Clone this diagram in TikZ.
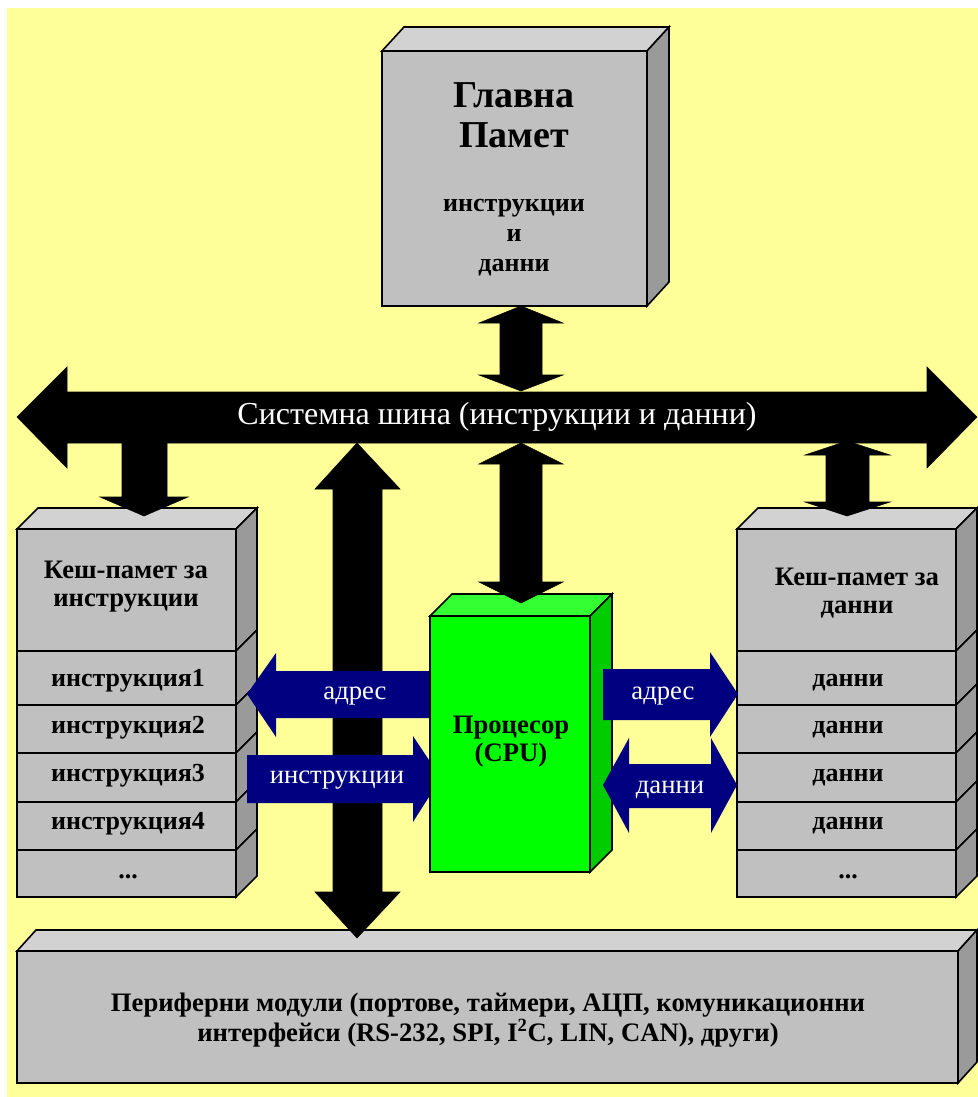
\documentclass[tikz,border=0pt]{standalone}
\usepackage{fontspec}
\setmainfont{Liberation Serif}

\definecolor{bgyellow}{HTML}{FFFF99}
\definecolor{cubefront}{HTML}{C0C0C0}
\definecolor{cubetop}{HTML}{D2D2D2}
\definecolor{cubeside}{HTML}{9A9A9A}
\definecolor{cpufront}{HTML}{00FF00}
\definecolor{cputop}{HTML}{33FF33}
\definecolor{cpuside}{HTML}{00CC00}
\definecolor{linknavy}{HTML}{000080}

\begin{document}
\begin{tikzpicture}[x=0.75pt,y=0.75pt,yscale=-1,xscale=1,
  face/.style={draw=black, line width=1.2pt},
  busarrow/.style={fill=black, draw=black, line width=0.4pt},
  linkarrow/.style={fill=linknavy},
  bigtxt/.style={inner sep=0.75pt, align=center, font=\bfseries\fontsize{28.5}{30}\selectfont},
  celltxt/.style={inner sep=0.75pt, align=center, font=\bfseries\fontsize{20}{21}\selectfont},
  rowtxt/.style={inner sep=0.75pt, text height=0.66em, text depth=0.2em, font=\bfseries\fontsize{19.5}{21}\selectfont},
  buslbl/.style={inner sep=0.75pt, text=white, font=\fontsize{24}{26}\selectfont},
  linklbl/.style={inner sep=0.75pt, text=white, text height=0.66em, text depth=0.2em, font=\fontsize{20}{22}\selectfont}
]
\useasboundingbox (0,0) rectangle (978,1097);

%Background
\fill [bgyellow] (7,8) rectangle (978,1097);

%Shape: Cube -- main memory
\draw [face, fill=cubefront] (382,51) rectangle (647,306);
\draw [face, fill=cubetop] (382,51) -- (404,27) -- (669,27) -- (647,51) -- cycle;
\draw [face, fill=cubeside] (647,51) -- (669,27) -- (669,282) -- (647,306) -- cycle;

%Shape: Cube stack -- instruction cache
\draw [face, fill=cubetop] (17,529) -- (38,508) -- (257,508) -- (236,529) -- cycle;
\draw [face, fill=cubefront] (17,529) rectangle (236,651);
\draw [face, fill=cubeside] (236,529) -- (257,508) -- (257,630) -- (236,651) -- cycle;
\draw [face, fill=cubefront] (17,651) rectangle (236,705);
\draw [face, fill=cubeside] (236,651) -- (257,630) -- (257,684) -- (236,705) -- cycle;
\draw [face, fill=cubefront] (17,705) rectangle (236,753);
\draw [face, fill=cubeside] (236,705) -- (257,684) -- (257,732) -- (236,753) -- cycle;
\draw [face, fill=cubefront] (17,753) rectangle (236,802);
\draw [face, fill=cubeside] (236,753) -- (257,732) -- (257,781) -- (236,802) -- cycle;
\draw [face, fill=cubefront] (17,802) rectangle (236,850);
\draw [face, fill=cubeside] (236,802) -- (257,781) -- (257,829) -- (236,850) -- cycle;
\draw [face, fill=cubefront] (17,850) rectangle (236,897);
\draw [face, fill=cubeside] (236,850) -- (257,829) -- (257,876) -- (236,897) -- cycle;

%Shape: Cube stack -- data cache
\draw [face, fill=cubetop] (737,529) -- (758,508) -- (977,508) -- (956,529) -- cycle;
\draw [face, fill=cubefront] (737,529) rectangle (956,651);
\draw [face, fill=cubeside] (956,529) -- (977,508) -- (977,630) -- (956,651) -- cycle;
\draw [face, fill=cubefront] (737,651) rectangle (956,705);
\draw [face, fill=cubeside] (956,651) -- (977,630) -- (977,684) -- (956,705) -- cycle;
\draw [face, fill=cubefront] (737,705) rectangle (956,753);
\draw [face, fill=cubeside] (956,705) -- (977,684) -- (977,732) -- (956,753) -- cycle;
\draw [face, fill=cubefront] (737,753) rectangle (956,802);
\draw [face, fill=cubeside] (956,753) -- (977,732) -- (977,781) -- (956,802) -- cycle;
\draw [face, fill=cubefront] (737,802) rectangle (956,850);
\draw [face, fill=cubeside] (956,802) -- (977,781) -- (977,829) -- (956,850) -- cycle;
\draw [face, fill=cubefront] (737,850) rectangle (956,897);
\draw [face, fill=cubeside] (956,850) -- (977,829) -- (977,876) -- (956,897) -- cycle;

%Shape: Cube -- peripherals
\draw [face, fill=cubefront] (17,951) rectangle (958,1083);
\draw [face, fill=cubetop] (17,951) -- (36,930) -- (977,930) -- (958,951) -- cycle;
\draw [face, fill=cubeside] (958,951) -- (977,930) -- (977,1062) -- (958,1083) -- cycle;

%Shape: Double Arrow -- system bus
\draw [busarrow] (17,417) -- (67,367) -- (67,392) -- (927,392) -- (927,367) -- (977,417) -- (927,468) -- (927,443) -- (67,443) -- (67,468) -- cycle;
%Shape: Double Arrow -- memory <-> bus
\draw [busarrow] (521,306) -- (563,323) -- (542,323) -- (542,375) -- (563,375) -- (521,391) -- (479,375) -- (500,375) -- (500,323) -- (479,323) -- cycle;
%Shape: Arrow -- bus -> instruction cache
\draw [busarrow] (122,440) -- (167,440) -- (167,497) -- (188,497) -- (144,516) -- (100,497) -- (122,497) -- cycle;
%Shape: Double Arrow -- bus <-> data cache
\draw [busarrow] (847,441) -- (890,455) -- (869,455) -- (869,502) -- (890,502) -- (847,516) -- (805,502) -- (826,502) -- (826,455) -- (805,455) -- cycle;
%Shape: Double Arrow -- bus <-> peripherals
\draw [busarrow] (357,443) -- (400,489) -- (382,489) -- (382,892) -- (400,892) -- (357,938) -- (315,892) -- (333,892) -- (333,489) -- (315,489) -- cycle;

%Shape: Arrow -- address to instruction cache
\fill [linkarrow] (247,694) -- (276,653) -- (276,671) -- (440,671) -- (440,718) -- (276,718) -- (276,737) -- cycle;
%Shape: Arrow -- instructions to CPU
\fill [linkarrow] (247,755) -- (413,755) -- (413,736) -- (441,778) -- (413,822) -- (413,803) -- (247,803) -- cycle;

%Shape: Cube -- CPU
\draw [face, fill=cpufront] (430,616) rectangle (590,872);
\draw [face, fill=cputop] (430,616) -- (452,594) -- (612,594) -- (590,616) -- cycle;
\draw [face, fill=cpuside] (590,616) -- (612,594) -- (612,850) -- (590,872) -- cycle;

%Shape: Double Arrow -- bus <-> CPU
\draw [busarrow] (521,443) -- (563,464) -- (542,464) -- (542,582) -- (563,582) -- (521,603) -- (479,582) -- (500,582) -- (500,464) -- (479,464) -- cycle;

%Shape: Arrow -- address to data cache
\fill [linkarrow] (603,669) -- (710,669) -- (710,652) -- (738,694) -- (710,737) -- (710,720) -- (603,720) -- cycle;
%Shape: Double Arrow -- data
\fill [linkarrow] (603,785) -- (629,738) -- (629,764) -- (711,764) -- (711,738) -- (737,785) -- (711,833) -- (711,808) -- (629,808) -- (629,833) -- cycle;

% Text Node
\draw (514,115) node (memName) [bigtxt] {Главна\\Памет};
% Text Node
\draw (514,238) node (memData) [celltxt, font=\bfseries\fontsize{19.5}{22.5}\selectfont] {инструкции\\и\\данни};
% Text Node
\draw (497,417) node (busName) [buslbl] {Системна шина (инструкции и данни)};
% Text Node
\draw (126,587) node (icacheName) [celltxt] {Кеш-памет за\\инструкции};
% Text Node
\draw (128,683) node (icacheA) [rowtxt] {инструкция1};
% Text Node
\draw (128,730) node (icacheB) [rowtxt] {инструкция2};
% Text Node
\draw (128,778) node (icacheC) [rowtxt] {инструкция3};
% Text Node
\draw (128,826) node (icacheD) [rowtxt] {инструкция4};
% Text Node
\draw (128,875) node (icacheE) [rowtxt] {...};
% Text Node
\draw (857,593) node (dcacheName) [celltxt] {Кеш-памет за\\данни};
% Text Node
\draw (848,683) node (dcacheA) [rowtxt] {данни};
% Text Node
\draw (848,730) node (dcacheB) [rowtxt] {данни};
% Text Node
\draw (848,778) node (dcacheC) [rowtxt] {данни};
% Text Node
\draw (848,826) node (dcacheD) [rowtxt] {данни};
% Text Node
\draw (848,875) node (dcacheE) [rowtxt] {...};
% Text Node
\draw (511,742) node (cpuName) [celltxt] {Процесор\\(CPU)};
% Text Node
\draw (355,696) node (addrLeft) [linklbl] {адрес};
% Text Node
\draw (337,780) node (instrLeft) [linklbl] {инструкции};
% Text Node
\draw (663,696) node (addrRight) [linklbl] {адрес};
% Text Node
\draw (670,790) node (dataRight) [linklbl] {данни};
% Text Node
\draw (488,1020) node (periphName) [celltxt, font=\bfseries\fontsize{20}{22.5}\selectfont] {Периферни модули (портове, таймери, АЦП, комуникационни\\интерфейси (RS-232, SPI, I\textsuperscript{2}C, LIN, CAN), други)};

\end{tikzpicture}
\end{document}
